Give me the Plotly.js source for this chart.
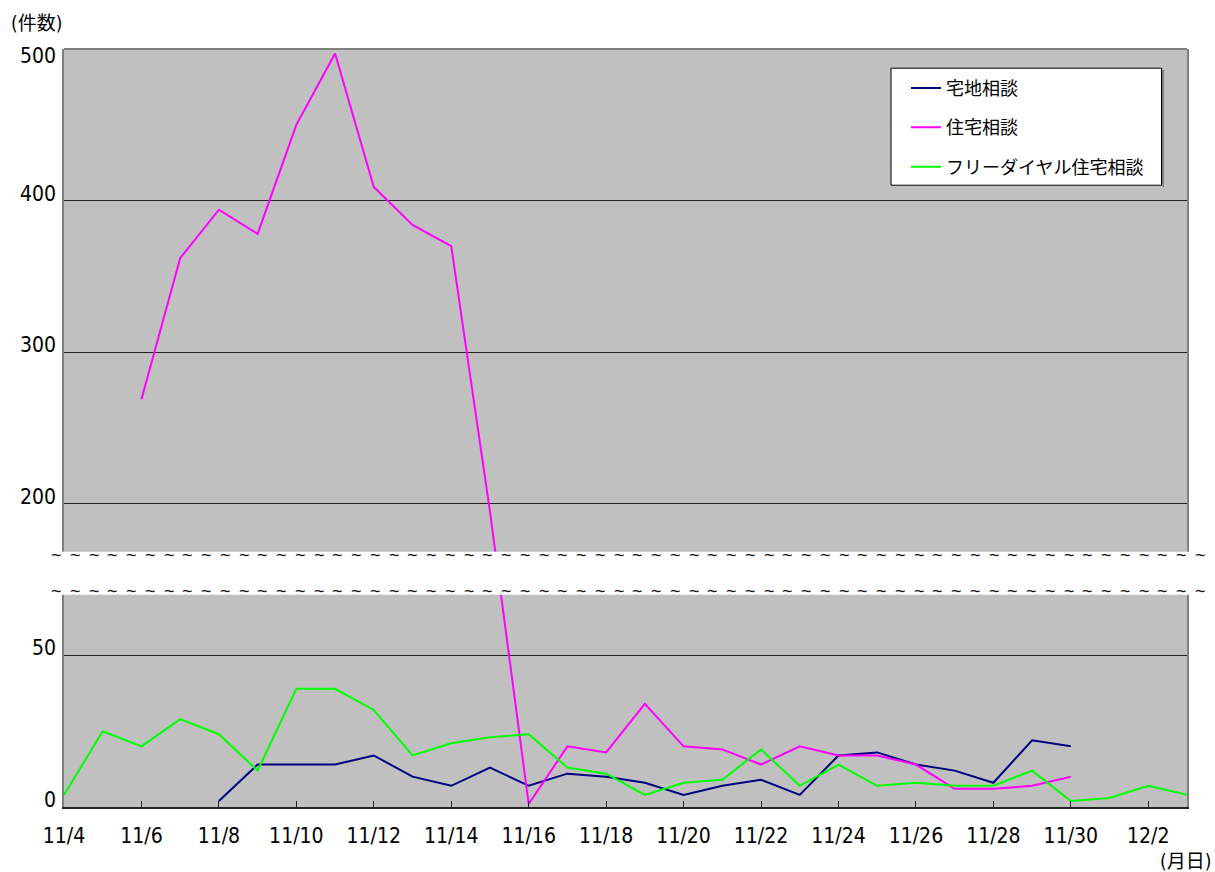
<!DOCTYPE html>
<html><head><meta charset="utf-8">
<script src="https://cdn.plot.ly/plotly-3.0.1.min.js"></script>
<style>body{margin:0;padding:0;background:#fff}#chart{width:1215px;height:872px}</style>
</head><body><div id="chart"></div>
<script>
// ---- data (counts per day) ----
const dates = ['11/4','11/5','11/6','11/7','11/8','11/9','11/10','11/11','11/12','11/13','11/14','11/15','11/16','11/17','11/18','11/19','11/20','11/21','11/22','11/23','11/24','11/25','11/26','11/27','11/28','11/29','11/30','12/1','12/2','12/3'];
const takuchi = [null,null,null,null,2,14,14,14,17,10,7,13,7,11,10,8,4,7,9,4,17,18,14,12,8,22,20,null,null,null];
const jutaku = [null,null,269,362,394,378,450,497,409,384,370,195,1,20,18,34,20,19,14,20,17,17,14,6,6,7,10,null,null,null];
const freeDial = [4,25,20,29,24,12,39,39,32,17,21,23,24,13,11,4,8,9,19,7,14,7,8,7,7,12,2,3,7,4];
const seriesNames = ['宅地相談','住宅相談','フリーダイヤル住宅相談'];
const yTickValues = [0,50,200,300,400,500];

// broken axis: values below the break are drawn at double scale
const BREAK = 100;
function toDisplay(v){ return v === null ? null : (v >= BREAK ? v : v * 2); }

const NUMFONT = '"Liberation Sans Narrow", "Arial Narrow", "DejaVu Sans Condensed", "Noto Sans CJK JP", sans-serif';
const JPFONT = '"Noto Sans CJK JP", "Liberation Sans", sans-serif';

const colors = ['#000080', '#FF00FF', '#00FF00'];
const seriesData = [takuchi, jutaku, freeDial];
const traces = seriesData.map((arr, i) => ({
  x: dates, y: arr.map(toDisplay), name: seriesNames[i], type: 'scatter', mode: 'lines',
  line: {color: colors[i], width: 2}, legendgroup: 'g' + i, connectgaps: false, hoverinfo: 'x+name'
}));

const plotL = 64, plotW = 1123, plotB = 807.3, plotH = 758;
const px2x = px => (px - plotL) / plotW;
const px2y = py => (plotB - py) / plotH;

// break band (display units) and tilde rows
const bandLo = 140, bandHi = 168.4;
const annotations = [];
for (let k = 0; k < 62; k++) {
  const xp = px2x(56.7 + k * 18.75);
  [166.2, 142.6].forEach(yv => annotations.push({
    xref: 'paper', yref: 'y', x: xp, y: yv, text: '~', showarrow: false,
    xanchor: 'center', yanchor: 'middle', font: {family: '"Liberation Sans", sans-serif', size: 18, color: '#111'}
  }));
}
// y tick labels (from tick arrays, through the y axis)
yTickValues.forEach(v => {
  const top = v === yTickValues[yTickValues.length - 1];
  annotations.push({xref: 'paper', yref: 'y', x: px2x(58), y: toDisplay(v), text: String(v), showarrow: false,
    xanchor: 'right', yanchor: 'middle', yshift: top ? -7 : 7,
    font: {family: NUMFONT, size: 21, color: '#000'}});
});
annotations.push({xref: 'paper', yref: 'paper', x: px2x(9), y: px2y(23), text: '(件数)',
  showarrow: false, xanchor: 'left', yanchor: 'middle', font: {family: NUMFONT, size: 19, color: '#000'}});
annotations.push({xref: 'paper', yref: 'paper', x: px2x(1213), y: px2y(861), text: '(月日)',
  showarrow: false, xanchor: 'right', yanchor: 'middle', font: {family: NUMFONT, size: 19, color: '#000'}});

const layout = {
  width: 1215, height: 872, autosize: false,
  margin: {l: 64, r: 28, t: 49, b: 65, pad: 0},
  paper_bgcolor: '#ffffff', plot_bgcolor: '#C0C0C0',
  showlegend: true,
  legend: {x: px2x(906), y: px2y(70), xanchor: 'left', yanchor: 'top',
    bgcolor: 'rgba(0,0,0,0)', borderwidth: 0, traceorder: 'grouped', tracegroupgap: 13,
    font: {family: JPFONT, size: 18, color: '#000'}},
  xaxis: {type: 'category', range: [0, 29], tickmode: 'linear', tick0: 0, dtick: 2,
    ticks: 'inside', ticklen: 6, tickcolor: '#222', tickwidth: 1, ticklabelstandoff: 9,
    showline: true, linecolor: '#222', linewidth: 2, showgrid: false, zeroline: false,
    tickfont: {family: NUMFONT, size: 21, color: '#000'}, fixedrange: true},
  yaxis: {range: [0, 500], tickmode: 'array', tickvals: yTickValues.map(toDisplay), showticklabels: false,
    ticks: '', showline: true, linecolor: '#808080', linewidth: 2, mirror: true,
    showgrid: true, gridcolor: '#222', gridwidth: 1, zeroline: false, fixedrange: true},
  shapes: [
    {type: 'line', xref: 'paper', yref: 'paper', x0: 0, x1: 1, y0: 1, y1: 1, line: {color: '#808080', width: 2}, layer: 'above'},
    {type: 'rect', xref: 'paper', yref: 'y', x0: -0.006, x1: 1.006, y0: bandLo, y1: bandHi, fillcolor: '#ffffff', line: {width: 0}, layer: 'above'},
    // legend frame
    {type: 'line', xref: 'paper', yref: 'paper', x0: px2x(1163), x1: px2x(1163), y0: px2y(70), y1: px2y(187), line: {color: '#808080', width: 2}, layer: 'above'},
    {type: 'rect', xref: 'paper', yref: 'paper', x0: px2x(891), x1: px2x(1161.5), y0: px2y(68.5), y1: px2y(185.5), fillcolor: '#ffffff', line: {color: '#000', width: 1}, layer: 'above'}
  ],
  annotations: annotations
};
Plotly.newPlot('chart', traces, layout, {displayModeBar: false, staticPlot: true});
</script></body></html>
